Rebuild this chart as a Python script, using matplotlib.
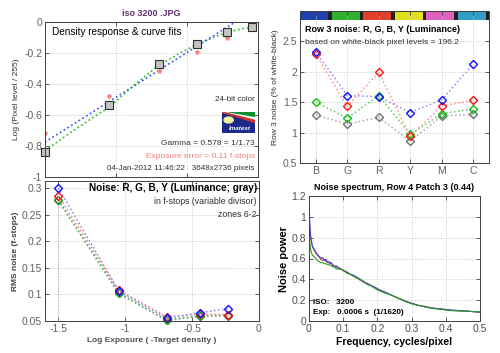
import numpy as np
import matplotlib
matplotlib.use('Agg')
import matplotlib.pyplot as plt
from matplotlib.patches import Rectangle, Polygon, Circle

plt.rcParams['font.family'] = ['Liberation Sans', 'DejaVu Sans']

# ---- datos: respuesta de densidad (arriba izquierda)
log_exp = [-1.5, -1.05, -0.70, -0.43, -0.22, -0.04]
log_pix = [-0.84, -0.535, -0.27, -0.145, -0.065, -0.035]
log_pix_raw = [-0.715, -0.48, -0.315, -0.195, -0.10, -0.02]
fit_x = [-1.5, -1.3, -1.05, -0.85, -0.70, -0.55, -0.43, -0.30, -0.22, -0.12, -0.04, 0.0]
fit_y = [-0.83, -0.70, -0.55, -0.39, -0.28, -0.20, -0.145, -0.095, -0.068, -0.045, -0.035, -0.03]
gamma_x = [-1.5, -0.16]
gamma_y = [-0.775, 0.0]

# ---- datos: ruido por parche de color (arriba derecha)
patches = ['B', 'G', 'R', 'Y', 'M', 'C']
patch_colors = ['#2040b0', '#30b030', '#e04030', '#e0e020', '#e060c0', '#30a0c0']
row3_b = [2.33, 1.61, 1.59, 1.33, 1.54, 2.13]
row3_r = [2.29, 1.43, 1.99, 0.94, 1.44, 1.53]
row3_g = [1.50, 1.24, 1.61, 0.97, 1.31, 1.39]
row3_y = [1.29, 1.14, 1.25, 0.86, 1.27, 1.30]

# ---- datos: ruido en f-stops (abajo izquierda)
zone_x = [-1.5, -1.05, -0.69, -0.44, -0.23]
rms_b = [0.301, 0.107, 0.055, 0.066, 0.073]
rms_r = [0.286, 0.108, 0.058, 0.063, 0.062]
rms_g = [0.278, 0.103, 0.052, 0.060, 0.061]
rms_y = [0.277, 0.102, 0.051, 0.059, 0.060]

# ---- datos: espectro de ruido (abajo derecha)
freq = [0, 0.002, 0.004, 0.006, 0.008, 0.01, 0.015, 0.02, 0.025, 0.03, 0.035, 0.04,
        0.045, 0.05, 0.055, 0.06, 0.065, 0.07, 0.075, 0.08, 0.09, 0.1, 0.11, 0.12,
        0.13, 0.14, 0.15, 0.16, 0.17, 0.18, 0.19, 0.2, 0.22, 0.24, 0.26, 0.28, 0.3,
        0.32, 0.34, 0.36, 0.38, 0.4, 0.42, 0.44, 0.46, 0.48, 0.5]
nps_b = [1.20, 0.95, 0.84, 0.79, 0.75, 0.72, 0.69, 0.66, 0.63, 0.62, 0.60, 0.61,
         0.58, 0.59, 0.56, 0.57, 0.55, 0.54, 0.52, 0.53, 0.50, 0.49, 0.47, 0.45,
         0.44, 0.42, 0.40, 0.37, 0.36, 0.34, 0.33, 0.31, 0.28, 0.25, 0.22, 0.19, 0.17,
         0.15, 0.135, 0.125, 0.115, 0.11, 0.105, 0.10, 0.095, 0.09, 0.085]
nps_r = [1.10, 0.90, 0.82, 0.78, 0.74, 0.71, 0.68, 0.65, 0.64, 0.61, 0.59, 0.58,
         0.59, 0.57, 0.57, 0.55, 0.56, 0.53, 0.53, 0.51, 0.51, 0.48, 0.47, 0.45,
         0.43, 0.42, 0.39, 0.38, 0.36, 0.345, 0.32, 0.30, 0.28, 0.25, 0.22, 0.195, 0.17,
         0.15, 0.14, 0.125, 0.12, 0.11, 0.10, 0.10, 0.095, 0.09, 0.085]
nps_g = [1.00, 0.76, 0.70, 0.67, 0.65, 0.63, 0.62, 0.60, 0.58, 0.57, 0.56, 0.56,
         0.55, 0.55, 0.54, 0.54, 0.53, 0.52, 0.52, 0.50, 0.50, 0.49, 0.46, 0.45,
         0.43, 0.41, 0.40, 0.38, 0.35, 0.34, 0.32, 0.30, 0.27, 0.25, 0.22, 0.19, 0.165,
         0.15, 0.135, 0.12, 0.115, 0.105, 0.10, 0.095, 0.095, 0.09, 0.085]

W, H = 500, 353
fig = plt.figure(figsize=(5, 3.53), dpi=100)
fig.patch.set_facecolor('white')


def px_axes(x0, y0, x1, y1):
    # convierte coordenadas de pixel (origen arriba izquierda) a add_axes
    return fig.add_axes([x0 / W, (H - y1) / H, (x1 - x0) / W, (y1 - y0) / H])


def estilo(ax, tick_color='#606060'):
    ax.tick_params(direction='in', top=True, right=True, length=3, width=0.6,
                   labelsize=7.5, labelcolor=tick_color, color='#404040', pad=2)
    ax.grid(True, linestyle=':', color='#c8c8c8', linewidth=0.7)
    for s in ax.spines.values():
        s.set_color('#404040')
        s.set_linewidth(0.7)


# ---------- arriba izquierda
ax1 = px_axes(45, 22, 258, 177)
ax1.plot(gamma_x, gamma_y, ':', color='#3050ff', lw=1.2)
ax1.plot(fit_x, fit_y, ':', color='#20c020', lw=1.2)
ax1.plot(log_exp, log_pix_raw, '*', color='#ff8080', ms=3)
ax1.plot(log_exp, log_pix, 's', mfc='#c4c4c4', mec='#303030', ms=5.5, mew=0.8, clip_on=False)
ax1.set_xlim(-1.5, 0)
ax1.set_ylim(-1, 0)
ax1.set_xticks([-1.5, -1, -0.5, 0])
ax1.set_xticklabels([])
ax1.set_yticks([0, -0.2, -0.4, -0.6, -0.8, -1])
ax1.set_yticklabels(['0', '-0.2', '-0.4', '-0.6', '-0.8', '-1'])
estilo(ax1)
ax1.set_ylabel('Log (Pixel level / 255)', fontsize=6, color='#303030', labelpad=3)
ax1.set_title('iso 3200 .JPG', fontsize=6.5, fontweight='bold', color='#603070', pad=4)
ax1.text(0.033, 0.935, 'Density response & curve fits', transform=ax1.transAxes,
         fontsize=7.2, va='center', color='black')
ax1.text(0.985, 0.497, '24-bit color', transform=ax1.transAxes, fontsize=5.8,
         ha='right', va='center', color='#303030')
ax1.text(0.985, 0.213, 'Gamma = 0.578 = 1/1.73', transform=ax1.transAxes, fontsize=6,
         ha='right', va='center', color='#303030')
ax1.text(0.985, 0.135, 'Exposure error = 0.11 f-stops', transform=ax1.transAxes,
         fontsize=6, ha='right', va='center', color='#f08080')
ax1.text(0.985, 0.058, '04-Jan-2012 11:46:22   3648x2736 pixels', transform=ax1.transAxes,
         fontsize=5.8, ha='right', va='center', color='#303030')

# logo Imatest
axl = px_axes(222, 112, 255, 133)
axl.set_xlim(0, 1)
axl.set_ylim(0, 1)
axl.axis('off')
axl.add_patch(Rectangle((0, 0), 1, 1, color='#1c2a8c'))
axl.add_patch(Polygon([[0, 1], [1, 1], [1, 0.72]], color='#109030'))
axl.add_patch(Polygon([[0, 1], [1, 0.72], [1, 0.6]], color='white'))
axl.add_patch(Polygon([[0, 1], [1, 0.6], [1, 0.5]], color='#d03030'))
axl.add_patch(Circle((0.2, 0.62), 0.14, color='#f0f0a0', transform=axl.transData))
axl.text(0.55, 0.2, 'Imatest', fontsize=4.5, color='white', fontstyle='italic',
         fontweight='bold', ha='center', va='center')

# ---------- arriba derecha
ax2 = px_axes(300, 11, 489, 163)
xs = np.arange(1, len(patches) + 1)
for vals, c, lc in [(row3_y, '#707070', '#a8a8a8'), (row3_g, '#10c010', '#60d060'),
                    (row3_r, '#ff1010', '#ff9090'), (row3_b, '#1010ff', '#9090ff')]:
    ax2.plot(xs, vals, ':', color=lc, lw=1.1)
    ax2.plot(xs, vals, 'D', mfc='none', mec=c, ms=4, mew=1.0)
for i, c in enumerate(patch_colors):
    ax2.add_patch(Rectangle((i + 0.5, 2.85), 0.9, 0.15, color=c, lw=0))
    ax2.add_patch(Rectangle((i + 1.4, 2.85), 0.1, 0.15, color='#202020', lw=0))
ax2.set_xlim(0.5, 6.5)
ax2.set_ylim(0.5, 3.0)
ax2.set_xticks(xs)
ax2.set_xticklabels(patches)
ax2.set_yticks([0.5, 1, 1.5, 2, 2.5])
ax2.set_yticklabels(['0.5', '1', '1.5', '2', '2.5'])
estilo(ax2)
ax2.set_ylabel('Row 3 noise (% of white-black)', fontsize=6, color='#303030', labelpad=3)
ax2.text(0.026, 0.88, 'Row 3 noise: R, G, B, Y (Luminance)', transform=ax2.transAxes,
         fontsize=6.5, fontweight='bold', va='center')
ax2.text(0.026, 0.796, 'based on white-black pixel levels = 196.2', transform=ax2.transAxes,
         fontsize=6, va='center', color='#303030')

# ---------- abajo izquierda
ax3 = px_axes(45, 181, 259, 321)
ax3.vlines([-1.5, -0.69], 0.05, [0.27, 0.05], colors='#b0b0b0', linestyles=':', lw=0.8)
for vals, c, lc in [(rms_y, '#606060', '#909090'), (rms_g, '#10a010', '#50c050'),
                    (rms_r, '#ff1010', '#ff8080'), (rms_b, '#1010ff', '#8080ff')]:
    ax3.plot(zone_x, vals, ':', color=lc, lw=1.1)
    ax3.plot(zone_x, vals, 'D', mfc='none', mec=c, ms=4, mew=1.0, clip_on=False)
ax3.set_xlim(-1.6, 0)
ax3.set_ylim(0.05, 0.3137)
ax3.set_xticks([-1.5, -1, -0.5, 0])
ax3.set_xticklabels(['-1.5', '-1', '-0.5', '0'])
ax3.set_yticks([0.05, 0.1, 0.15, 0.2, 0.25, 0.3])
ax3.set_yticklabels(['0.05', '0.1', '0.15', '0.2', '0.25', '0.3'])
estilo(ax3)
ax3.set_ylabel('RMS noise (f-stops)', fontsize=6, fontweight='bold', color='#404040', labelpad=2)
ax3.set_xlabel('Log Exposure ( -Target density )', fontsize=6, fontweight='bold',
               color='#505050', labelpad=2)
ax3.text(0.99, 0.95, 'Noise: R, G, B, Y (Luminance; gray)', transform=ax3.transAxes,
         fontsize=7.2, fontweight='bold', ha='right', va='center')
ax3.text(0.99, 0.85, 'in f-stops (variable divisor)', transform=ax3.transAxes,
         fontsize=6.3, ha='right', va='center', color='#303030')
ax3.text(0.99, 0.764, 'zones 6-2', transform=ax3.transAxes,
         fontsize=6.3, ha='right', va='center', color='#303030')

# ---------- abajo derecha
ax4 = px_axes(309, 196, 480, 321)
ax4.plot(freq, nps_r, '-', color='#e04040', lw=0.8)
ax4.plot(freq, nps_b, '-', color='#4040e0', lw=0.8)
ax4.plot(freq, nps_g, '-', color='#20a020', lw=0.8)
ax4.set_xlim(0, 0.5)
ax4.set_ylim(0, 1.2)
ax4.set_xticks([0, 0.1, 0.2, 0.3, 0.4, 0.5])
ax4.set_xticklabels(['0', '0.1', '0.2', '0.3', '0.4', '0.5'])
ax4.set_yticks([0, 0.2, 0.4, 0.6, 0.8, 1, 1.2])
ax4.set_yticklabels(['0', '0.2', '0.4', '0.6', '0.8', '1', '1.2'])
estilo(ax4, tick_color='#505050')
ax4.set_title('Noise spectrum, Row 4 Patch 3 (0.44)', fontsize=6.5, fontweight='bold', pad=4)
ax4.set_ylabel('Noise power', fontsize=8, fontweight='bold', labelpad=2)
ax4.set_xlabel('Frequency, cycles/pixel', fontsize=7.5, fontweight='bold', labelpad=2)
ax4.text(0.023, 0.152, 'ISO:   3200', transform=ax4.transAxes, fontsize=5.8,
         fontweight='bold', va='center')
ax4.text(0.023, 0.064, 'Exp:   0.0006 s  (1/1620)', transform=ax4.transAxes, fontsize=5.8,
         fontweight='bold', va='center')

fig.savefig('out.png', dpi=100)
